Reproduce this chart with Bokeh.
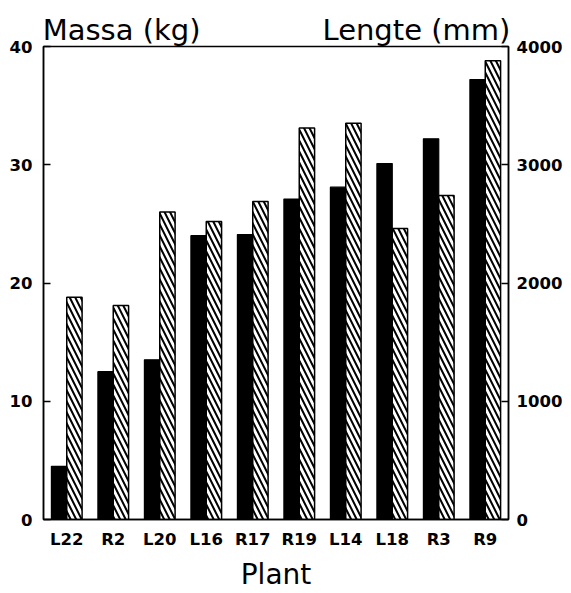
from bokeh.plotting import figure
from bokeh.models import Range1d, LinearAxis, FixedTicker, ColumnDataSource
from bokeh.transform import dodge
from bokeh.embed import file_html
from bokeh.resources import INLINE

plants = ["L22", "R2", "L20", "L16", "R17", "R19", "L14", "L18", "R3", "R9"]
massa_kg = [4.5, 12.5, 13.5, 24.0, 24.1, 27.1, 28.1, 30.1, 32.2, 37.2]
lengte_mm = [1880, 1810, 2600, 2520, 2690, 3310, 3350, 2460, 2740, 3880]
massa_ticks = [0, 10, 20, 30, 40]
lengte_ticks = [0, 1000, 2000, 3000, 4000]
axis_titles = ["Massa (kg)", "Lengte (mm)"]

FONT = "DejaVu Sans"

# category slots: each plant occupies one unit of the x scale, centred at i + 0.5
centers = [i + 0.5 for i in range(len(plants))]
src = ColumnDataSource(dict(pos=centers, plant=plants, massa=massa_kg, lengte=lengte_mm))

p = figure(x_range=Range1d(0, len(plants)), y_range=Range1d(0, 40),
           width=571, height=593, output_backend="svg", toolbar_location=None,
           min_border_left=43, min_border_right=63, min_border_top=46, min_border_bottom=74)
p.title.visible = False
p.extra_y_ranges = {"lengte": Range1d(0, 4000)}

p.vbar(x=dodge("pos", -0.165), top="massa", width=0.33, source=src,
       fill_color="black", line_color="black", line_width=1.2)
p.vbar(x=dodge("pos", 0.165), top="lengte", width=0.33, source=src,
       y_range_name="lengte", fill_color="white", line_color="black", line_width=1.5,
       hatch_pattern="\\", hatch_color="black", hatch_scale=11, hatch_weight=2.0)

p.xgrid.grid_line_color = None
p.ygrid.grid_line_color = None
p.outline_line_color = "black"
p.outline_line_width = 1.5

def style_numeric(ax, standoff):
    ax.major_tick_in = 7
    ax.major_tick_out = 0
    ax.minor_tick_line_color = None
    ax.axis_line_width = 1.5
    ax.major_tick_line_width = 1.5
    ax.major_label_text_font = FONT
    ax.major_label_text_font_style = "bold"
    ax.major_label_text_font_size = "16.5px"
    ax.major_label_text_color = "black"
    ax.major_label_standoff = standoff

# left axis
ya = p.left[0]
ya.ticker = FixedTicker(ticks=massa_ticks)
style_numeric(ya, 11)

# right axis
ra = LinearAxis(y_range_name="lengte", ticker=FixedTicker(ticks=lengte_ticks))
style_numeric(ra, 8)
p.add_layout(ra, "right")

# bottom axis: plant names at the slot centres
xa = p.below[0]
xa.ticker = FixedTicker(ticks=centers)
xa.major_label_overrides = {c: name for c, name in zip(centers, plants)}
xa.major_tick_line_color = None
xa.minor_tick_line_color = None
xa.axis_line_width = 1.5
xa.major_label_text_font = FONT
xa.major_label_text_font_style = "bold"
xa.major_label_text_font_size = "16.5px"
xa.major_label_text_color = "black"
xa.major_label_standoff = 4
xa.axis_label = "Plant"
xa.axis_label_text_font = FONT
xa.axis_label_text_font_style = "normal"
xa.axis_label_text_font_size = "28px"
xa.axis_label_text_color = "black"
xa.axis_label_standoff = 6

# top: axis titles for both y axes, placed above the frame
title_pos = [1.68, 8.02]
ta = LinearAxis(ticker=FixedTicker(ticks=title_pos),
                major_label_overrides={pos: t for pos, t in zip(title_pos, axis_titles)})
ta.axis_line_color = None
ta.major_tick_line_color = None
ta.minor_tick_line_color = None
ta.major_tick_in = 0
ta.major_tick_out = 0
ta.major_label_text_font = FONT
ta.major_label_text_font_size = "29px"
ta.major_label_text_color = "black"
ta.major_label_standoff = 0
p.add_layout(ta, "above")

open("out.html", "w").write(file_html(p, INLINE))
